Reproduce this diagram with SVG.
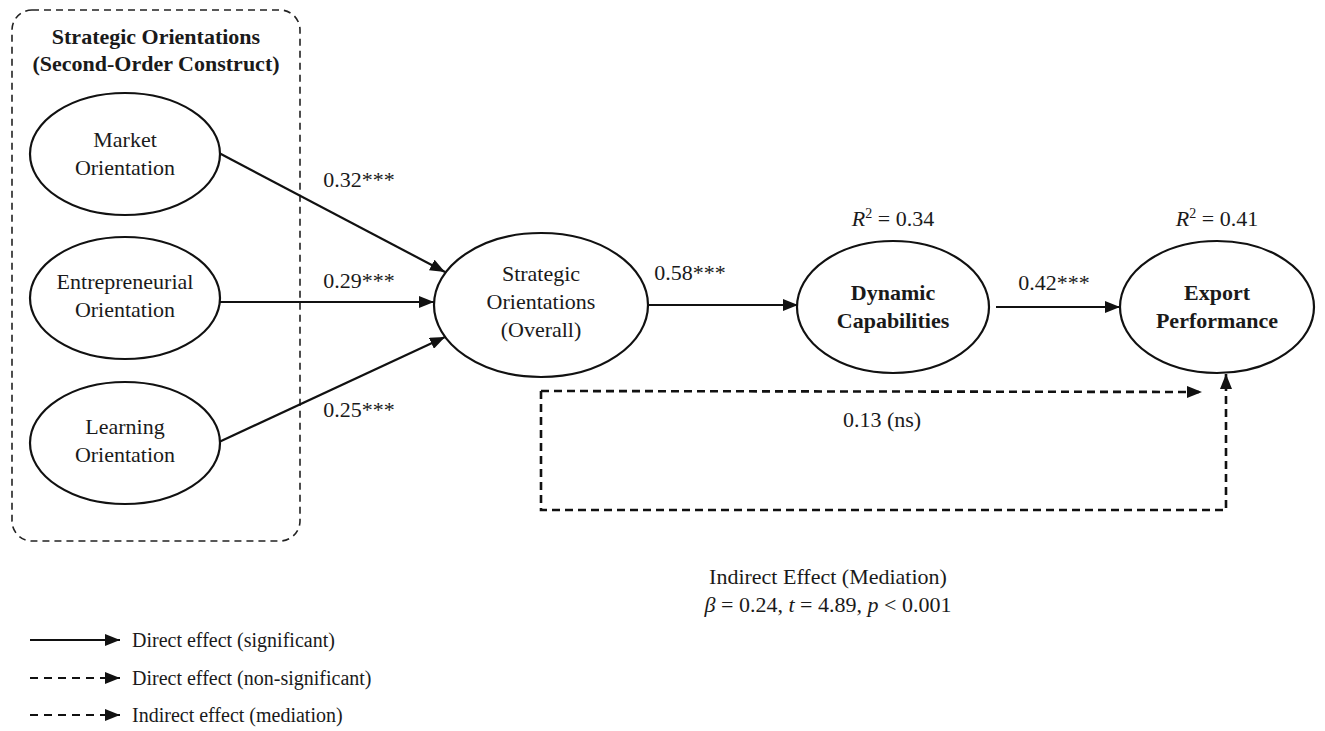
<svg xmlns="http://www.w3.org/2000/svg" width="1325" height="731" viewBox="0 0 1325 731">
<defs>
<marker id="ah" markerUnits="userSpaceOnUse" markerWidth="15" markerHeight="12" refX="15" refY="6" orient="auto">
<path d="M0,0 L15,6 L0,12 z" fill="#111"/>
</marker>
<style>
.t{font-family:"Liberation Serif","Times New Roman",serif;font-size:22px;fill:#1a1a1a;text-anchor:middle}
.b{font-weight:bold}
.lg{font-family:"Liberation Serif","Times New Roman",serif;font-size:20px;fill:#1a1a1a}
.el{fill:#fff;stroke:#111;stroke-width:2.2}
.c{fill:none;stroke:#111;stroke-width:2.2}
.d{fill:none;stroke:#111;stroke-width:2.6;stroke-dasharray:8 5}
</style>
</defs>
<rect width="1325" height="731" fill="#fff"/>

<g id="group-box">
<rect x="12" y="10" width="288" height="531" rx="20" ry="20" fill="none" stroke="#222" stroke-width="1.6" stroke-dasharray="7 5"/>
<text class="t b" x="156" y="44" font-size="20">Strategic Orientations</text>
<text class="t b" x="156" y="71" font-size="20">(Second-Order Construct)</text>
</g>

<g id="connectors">
<path class="c" d="M219,153 L445,272" marker-end="url(#ah)"/>
<path class="c" d="M219,302 L434,302" marker-end="url(#ah)"/>
<path class="c" d="M219,442 L445,337" marker-end="url(#ah)"/>
<path class="c" d="M648,305 L798,305" marker-end="url(#ah)"/>
<path class="c" d="M996,307 L1120,307" marker-end="url(#ah)"/>
<path class="d" d="M541,391 L1202,392" marker-end="url(#ah)"/>
<path class="d" d="M541,391 L541,510 L1226,510 L1226,374" marker-end="url(#ah)"/>
<text class="t" x="359" y="187">0.32***</text>
<text class="t" x="359" y="288">0.29***</text>
<text class="t" x="359" y="417">0.25***</text>
<text class="t" x="690" y="280">0.58***</text>
<text class="t" x="1054" y="290">0.42***</text>
<text class="t" x="882" y="427">0.13 (ns)</text>
<text class="t" x="828" y="584">Indirect Effect (Mediation)</text>
<text class="t" x="828" y="612"><tspan font-style="italic">β</tspan> = 0.24, <tspan font-style="italic">t</tspan> = 4.89, <tspan font-style="italic">p</tspan> &lt; 0.001</text>
</g>

<g id="market">
<ellipse class="el" cx="125" cy="154" rx="95" ry="61"/>
<text class="t" x="125" y="147">Market</text>
<text class="t" x="125" y="175">Orientation</text>
</g>
<g id="entrepreneurial">
<ellipse class="el" cx="125" cy="298" rx="95" ry="61"/>
<text class="t" x="125" y="289">Entrepreneurial</text>
<text class="t" x="125" y="317">Orientation</text>
</g>
<g id="learning">
<ellipse class="el" cx="125" cy="443" rx="95" ry="61"/>
<text class="t" x="125" y="434">Learning</text>
<text class="t" x="125" y="462">Orientation</text>
</g>
<g id="overall">
<ellipse class="el" cx="541" cy="305" rx="107" ry="72"/>
<text class="t" x="541" y="281">Strategic</text>
<text class="t" x="541" y="309">Orientations</text>
<text class="t" x="541" y="337">(Overall)</text>
</g>
<g id="dynamic">
<ellipse class="el" cx="893" cy="307" rx="96" ry="66"/>
<text class="t" x="893" y="226"><tspan font-style="italic">R</tspan><tspan dy="-8" font-size="14">2</tspan><tspan dy="8"> = 0.34</tspan></text>
<text class="t b" x="893" y="300">Dynamic</text>
<text class="t b" x="893" y="328">Capabilities</text>
</g>
<g id="export">
<ellipse class="el" cx="1217" cy="307" rx="97" ry="66"/>
<text class="t" x="1217" y="226"><tspan font-style="italic">R</tspan><tspan dy="-8" font-size="14">2</tspan><tspan dy="8"> = 0.41</tspan></text>
<text class="t b" x="1217" y="300">Export</text>
<text class="t b" x="1217" y="328">Performance</text>
</g>

<g id="legend">
<path d="M30,640 L120,640" stroke="#111" stroke-width="2" marker-end="url(#ah)"/>
<text class="lg" x="132" y="647">Direct effect (significant)</text>
<path d="M30,678 L120,678" stroke="#111" stroke-width="2" stroke-dasharray="8 6" marker-end="url(#ah)"/>
<text class="lg" x="132" y="685">Direct effect (non-significant)</text>
<path d="M30,715 L120,715" stroke="#111" stroke-width="2" stroke-dasharray="8 6" marker-end="url(#ah)"/>
<text class="lg" x="132" y="722">Indirect effect (mediation)</text>
</g>
</svg>
